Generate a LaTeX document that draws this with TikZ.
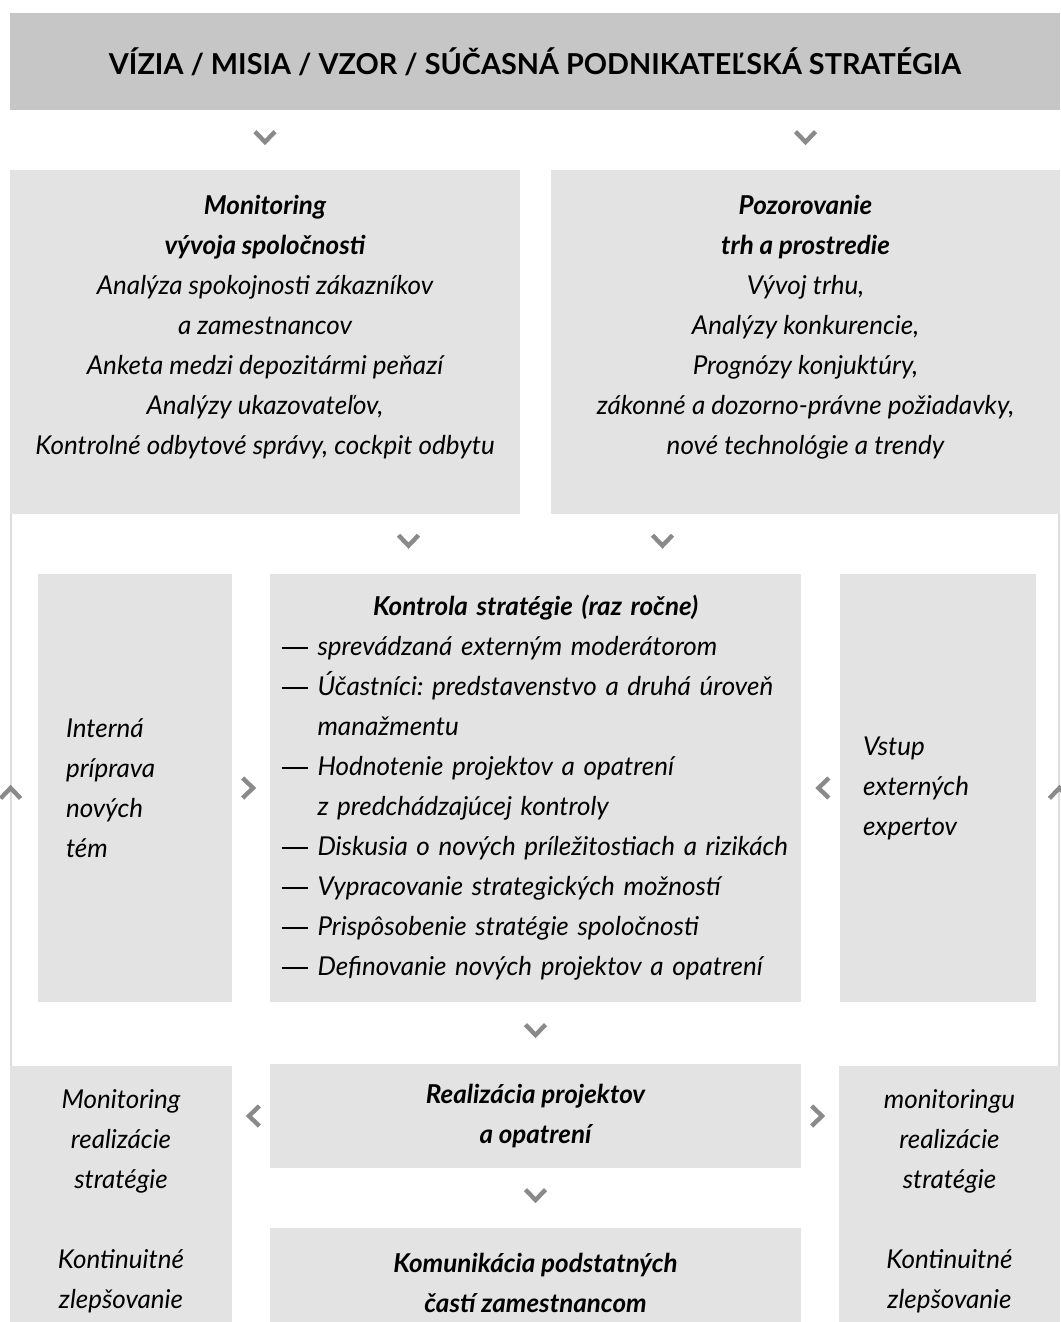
\documentclass[tikz,border=0pt]{standalone}
\usepackage{fontspec}
\setmainfont{Lato}
\usepackage{tikz}
\usetikzlibrary{arrows.meta,decorations.markings}
\definecolor{headgrey}{RGB}{198,198,198}
\definecolor{boxgrey}{RGB}{227,227,227}
\definecolor{chevgrey}{RGB}{138,138,138}
\definecolor{linegrey}{RGB}{220,220,220}
\newcommand{\listdash}{\makebox[18pt][l]{\raisebox{3.4pt}{\rule{13pt}{0.8pt}}}}

\begin{document}
\frenchspacing
\begin{tikzpicture}[
      x=0.5pt, y=-0.5pt,
      headbox/.style={rectangle, fill=headgrey, inner sep=0pt,
                      font=\fontsize{14.4}{20}\selectfont\bfseries},
      greybox/.style={rectangle, fill=boxgrey, inner sep=0pt, align=center,
                      font=\fontsize{13}{20}\selectfont\itshape},
      boldbox/.style={greybox, font=\fontsize{13}{20}\selectfont\bfseries\itshape},
      boxtext/.style={inner sep=0pt, align=center,
                      font=\fontsize{13}{20}\selectfont\itshape},
      chevron/.style={postaction={decorate}, decoration={markings,
                      mark=at position 0.5 with {\pgftransformxshift{2.6pt}
                      \arrow{Straight Barb[length=5.2pt, width=10pt,
                             line width=2.2pt, color=chevgrey]}}}},
      sideline/.style={draw=linegrey, line width=1pt, chevron}
    ]
      \useasboundingbox (0,0) rectangle (1060,1322);
      %% Header
      \node[headbox, minimum width=525pt, minimum height=48.5pt] (vision)
            at (535,61.5) {VÍZIA / MISIA / VZOR / SÚČASNÁ PODNIKATEĽSKÁ STRATÉGIA};
      %% Monitoring and observation
      \node[greybox, minimum width=255pt, minimum height=172pt,
            label={[boxtext, anchor=north, yshift=-12.5pt]north:{%
              \textbf{Monitoring}\\ \textbf{vývoja spoločnosti}\\
              Analýza spokojnosti zákazníkov\\ a zamestnancov\\
              Anketa medzi depozitármi peňazí\\ Analýzy ukazovateľov,\\
              Kontrolné odbytové správy, cockpit odbytu}}]
            (monitor) at (265,342) {};
      \node[greybox, minimum width=254.5pt, minimum height=172pt,
            label={[boxtext, anchor=north, yshift=-12.5pt]north:{%
              \textbf{Pozorovanie}\\ \textbf{trh a prostredie}\\
              Vývoj trhu,\\ Analýzy konkurencie,\\ Prognózy konjuktúry,\\
              zákonné a dozorno-právne požiadavky,\\
              nové technológie a trendy}}]
            (market) at (805.5,342) {};
      %% Strategy review row
      \node[greybox, align=left, text width=69pt, inner xsep=14pt,
            minimum height=214pt] (internal) at (135,788)
            {Interná\\ príprava\\ nových\\ tém};
      \node[greybox, align=left, text width=254pt, minimum width=265.5pt,
            minimum height=214pt] (review) at (535.5,788)
            {\makebox[254pt]{\bfseries Kontrola stratégie (raz ročne)}\\
             \listdash sprevádzaná externým moderátorom\\
             \listdash Účastníci: predstavenstvo a druhá úroveň\\
             \hspace*{18pt}manažmentu\\
             \listdash Hodnotenie projektov a opatrení\\
             \hspace*{18pt}z predchádzajúcej kontroly\\
             \listdash Diskusia o nových príležitostiach a rizikách\\
             \listdash Vypracovanie strategických možností\\
             \listdash Prispôsobenie stratégie spoločnosti\\
             \listdash Definovanie nových projektov a opatrení};
      \node[greybox, align=left, text width=75pt, inner xsep=11.5pt,
            minimum height=214pt] (experts) at (938,788)
            {Vstup\\ externých\\ expertov};
      %% Realisation row
      \node[greybox, minimum width=111pt, minimum height=135.5pt] (trackleft)
            at (121,1201.5)
            {Monitoring\\ realizácie\\ stratégie\\[20pt] Kontinuitné\\ zlepšovanie};
      \node[boldbox, minimum width=265.5pt, minimum height=52pt] (realize)
            at (535.5,1116) {Realizácia projektov\\ a opatrení};
      \node[greybox, minimum width=110.5pt, minimum height=135.5pt] (trackright)
            at (949.5,1201.5)
            {monitoringu\\ realizácie\\ stratégie\\[20pt] Kontinuitné\\ zlepšovanie};
      \node[boldbox, minimum width=265.5pt, minimum height=54.5pt] (inform)
            at (535.5,1282.5) {Komunikácia podstatných\\ častí zamestnancom};
      %% Chevrons
      \path[chevron] (vision.south -| monitor.north) -- (monitor.north);
      \path[chevron] (vision.south -| market.north) -- (market.north);
      \path[chevron] ([xshift=-63.5pt,yshift=30pt]review.north)
            -- ([xshift=-63.5pt]review.north);
      \path[chevron] ([xshift=63.5pt,yshift=30pt]review.north)
            -- ([xshift=63.5pt]review.north);
      \path[chevron] (internal.east) -- (review.west);
      \path[chevron] (experts.west) -- (review.east);
      \path[chevron] (review.south) -- (realize.north);
      \path[chevron] (realize.west) -- (trackleft.east |- realize.west);
      \path[chevron] (realize.east) -- (trackright.west |- realize.east);
      \path[chevron] (realize.south) -- (inform.north);
      %% Feedback lines
      \draw[sideline] ([xshift=0.5pt]trackleft.north west)
            -- ([xshift=0.5pt]monitor.south west);
      \draw[sideline] ([xshift=-0.5pt]trackright.north east)
            -- ([xshift=-0.5pt]market.south east);
    \end{tikzpicture}
\end{document}
